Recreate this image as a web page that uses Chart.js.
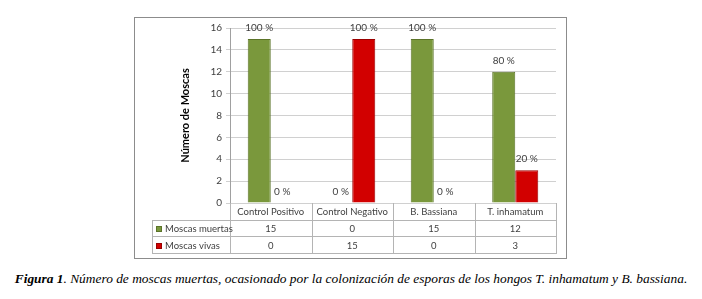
<!DOCTYPE html>
<html>
<head>
<meta charset="utf-8">
<script src="https://cdn.jsdelivr.net/npm/chart.js@4"></script>
<style>
    body { margin: 0; background: #fff; width: 702px; height: 299px; position: relative; overflow: hidden; }
    #frame { position: absolute; left: 134px; top: 17px; width: 431px; height: 240px; border: 1px solid #8c8c8c; }
    #wrap { position: absolute; left: 135px; top: 18px; width: 430px; height: 239px; }
    #caption {
        position: absolute; left: 0; top: 271px; width: 702px; text-align: center;
        font-family: "Liberation Serif", "DejaVu Serif", serif; font-style: italic; font-size: 13.4px; color: #000;
    }
</style>
</head>
<body>
<div id="frame"></div>
<div id="wrap"><canvas id="chart" width="430" height="239"></canvas></div>
<div id="caption"><b>Figura 1</b>. Número de moscas muertas, ocasionado por la colonización de esporas de los hongos T. inhamatum y B. bassiana.</div>
<script>
const categories = ["Control Positivo", "Control Negativo", "B. Bassiana", "T. inhamatum"];
const muertas = [15, 0, 15, 12];
const vivas = [0, 15, 0, 3];
const pctMuertas = ["100 %", "0 %", "100 %", "80 %"];
const pctVivas = ["0 %", "100 %", "0 %", "20 %"];
const seriesNames = ["Moscas muertas", "Moscas vivas"];

const FONT = "Lato, 'Liberation Sans', sans-serif";
const TEXT = "#404040";

// percent labels above each bar
const pctLabels = {
    id: "pctLabels",
    afterDatasetsDraw(chart) {
        const ctx = chart.ctx;
        const labels = [pctMuertas, pctVivas];
        ctx.save();
        ctx.font = "10px " + FONT;
        ctx.fillStyle = TEXT;
        ctx.textAlign = "center";
        ctx.textBaseline = "middle";
        chart.data.datasets.forEach((ds, d) => {
            chart.getDatasetMeta(d).data.forEach((bar, i) => {
                ctx.fillText(labels[d][i], bar.x, bar.y - 11);
            });
        });
        ctx.restore();
    }
};

// data table under the plot
const dataTable = {
    id: "dataTable",
    afterDraw(chart) {
        const ctx = chart.ctx;
        const area = chart.chartArea;
        const x = chart.scales.x;
        const rh = 16.7;
        const top = area.bottom;
        const legLeft = 17;
        const colW = (area.right - area.left) / categories.length;
        ctx.save();
        ctx.strokeStyle = "#b4b4b4";
        ctx.lineWidth = 1;
        ctx.beginPath();
        // horizontal lines
        for (let r = 1; r <= 3; r++) {
            const y = Math.round(top + r * rh) + 0.5;
            ctx.moveTo(legLeft, y);
            ctx.lineTo(area.right, y);
        }
        // vertical lines
        ctx.moveTo(legLeft + 0.5, Math.round(top + rh));
        ctx.lineTo(legLeft + 0.5, Math.round(top + 3 * rh) + 1);
        for (let c = 0; c <= categories.length; c++) {
            const xx = Math.round(area.left + c * colW) + 0.5;
            ctx.moveTo(xx, top);
            ctx.lineTo(xx, Math.round(top + 3 * rh) + 1);
        }
        ctx.stroke();

        ctx.font = "9.5px " + FONT;
        ctx.fillStyle = TEXT;
        ctx.textBaseline = "middle";
        ctx.textAlign = "center";
        categories.forEach((c, i) => {
            ctx.fillText(c, x.getPixelForValue(i), top + rh / 2 + 1);
        });
        const rows = [muertas, vivas];
        rows.forEach((vals, r) => {
            const cy = top + (r + 1.5) * rh + 1;
            vals.forEach((v, i) => {
                ctx.fillText(String(v), x.getPixelForValue(i), cy);
            });
        });
        ctx.textAlign = "left";
        chart.data.datasets.forEach((ds, r) => {
            const cy = top + (r + 1.5) * rh + 1;
            ctx.fillStyle = ds.borderColor;
            ctx.fillRect(legLeft + 4, Math.round(cy - 3), 6, 6);
            ctx.fillStyle = ds.backgroundColor;
            ctx.fillRect(legLeft + 5, Math.round(cy - 2), 4, 4);
            ctx.fillStyle = TEXT;
            ctx.fillText(seriesNames[r], legLeft + 13, cy);
        });
        ctx.restore();
    }
};

new Chart(document.getElementById("chart"), {
    type: "bar",
    data: {
        labels: categories,
        datasets: [
            {
                label: seriesNames[0],
                data: muertas,
                backgroundColor: "#7a983c",
                borderColor: "#5c7429",
                borderWidth: 1,
                barPercentage: 1,
                categoryPercentage: 0.565
            },
            {
                label: seriesNames[1],
                data: vivas,
                backgroundColor: "#d20000",
                borderColor: "#9a0000",
                borderWidth: 1,
                barPercentage: 1,
                categoryPercentage: 0.565
            }
        ]
    },
    options: {
        responsive: false,
        animation: false,
        layout: { padding: { left: 40, right: 9, top: 10, bottom: 54 } },
        plugins: {
            legend: { display: false },
            tooltip: { enabled: false }
        },
        scales: {
            x: { display: false },
            y: {
                min: 0,
                max: 16,
                ticks: { stepSize: 2, color: TEXT, font: { family: FONT, size: 10 }, padding: 4 },
                grid: { color: "#d0d0d0", tickLength: 4 },
                border: { color: "#a0a0a0" },
                title: {
                    display: true,
                    text: "Número de Moscas",
                    color: "#000",
                    font: { family: FONT, size: 11, weight: "bold" },
                    padding: 4
                },
                afterFit(scale) { scale.width = 55; }
            }
        }
    },
    plugins: [pctLabels, dataTable]
});
</script>
</body>
</html>
